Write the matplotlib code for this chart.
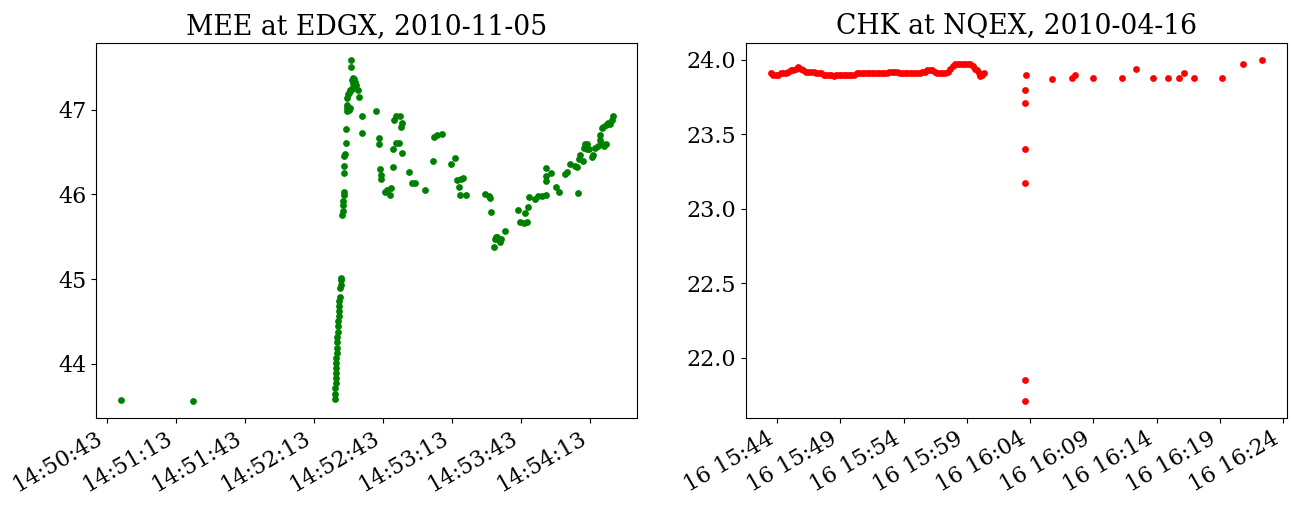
import pandas as pd
import matplotlib.pyplot as plt
import matplotlib.dates as mdates

plt.rcParams['font.family'] = 'DejaVu Serif'
plt.rcParams['font.size'] = 16

# MEE at EDGX: seconds after 14:50:00 and price
MEE_BASE = "2010-11-05 14:50:00"
mee_sec = [49.0, 80.4,
           142.3, 142.3, 142.3, 142.4, 142.4, 142.6, 142.6, 142.7, 142.8, 143.0,
           143.0, 143.1, 143.1, 143.3, 143.4, 143.6, 143.7, 143.9, 144.0, 144.1,
           144.3, 144.4, 144.6, 144.7, 144.9,
           145.3, 145.5, 145.6, 145.7, 145.9, 146.0, 146.0, 146.2, 146.3, 146.5,
           146.8, 146.9, 147.2, 147.3, 147.6, 148.1, 148.6, 147.6, 147.9, 148.3,
           148.6, 148.9, 149.4, 149.8, 150.1, 150.4, 150.8, 151.5, 152.3, 152.4,
           149.4, 150.1, 149.1, 149.2,
           154.1, 153.9, 160.1, 161.2, 161.2, 161.8, 162.0, 162.1, 163.9, 164.9,
           166.0, 166.5, 167.5, 167.5, 167.8, 168.6, 168.9, 169.8, 170.4, 170.7,
           171.4, 171.5, 174.4, 175.7, 176.9, 181.2, 184.6, 185.3, 186.3, 188.9,
           192.4, 194.3, 195.0, 196.2, 196.8, 197.6, 196.5, 199.1, 207.5, 208.9,
           209.5, 209.8, 211.4, 211.7, 212.1, 212.7, 213.4, 213.9, 214.3, 216.0,
           221.8, 222.6, 224.3, 225.5, 224.7, 225.9, 226.6, 229.2, 230.5, 232.0,
           233.7, 233.9, 234.1, 233.9, 236.0, 238.2, 239.7, 242.3, 242.8, 244.3,
           246.6, 247.2, 247.6, 248.1, 248.6, 249.8, 250.4, 250.8, 251.5, 251.5,
           252.7, 254.0, 254.4, 255.2, 256.6, 257.3, 258.1, 259.1, 259.8, 257.3,
           258.1, 258.8, 259.9, 261.0, 261.7, 262.4, 262.8]
mee_price = [43.57, 43.56,
             43.58, 43.64, 43.71, 43.77, 43.83, 43.89, 43.95, 44.01, 44.07, 44.13,
             44.18, 44.26, 44.32, 44.38, 44.44, 44.50, 44.56, 44.62, 44.68, 44.74,
             44.79, 44.89, 44.93, 44.99, 45.01,
             45.76, 45.80, 45.88, 45.92, 45.99, 46.03, 46.25, 46.34, 46.45, 46.48,
             46.61, 46.77, 46.98, 47.02, 47.06, 47.00, 47.02, 47.14, 47.18, 47.20,
             47.22, 47.23, 47.25, 47.27, 47.31, 47.36, 47.33, 47.29, 47.23, 47.15,
             47.35, 47.37, 47.50, 47.59,
             46.93, 46.72, 46.98, 46.66, 46.59, 46.30, 46.23, 46.18, 46.03, 46.05,
             45.99, 46.07, 46.53, 46.32, 46.88, 46.93, 46.61, 46.61, 46.93, 46.79,
             46.84, 46.49, 46.27, 46.13, 46.13, 46.05, 46.39, 46.68, 46.70, 46.71,
             46.36, 46.43, 46.17, 46.09, 46.18, 46.19, 45.99, 45.99, 46.01, 45.98,
             45.96, 45.79, 45.38, 45.47, 45.50, 45.50, 45.46, 45.44, 45.47, 45.57,
             45.81, 45.67, 45.66, 45.67, 45.78, 45.85, 45.97, 45.94, 45.98, 45.98,
             45.99, 46.16, 46.31, 46.22, 46.25, 46.09, 46.03, 46.24, 46.27, 46.36,
             46.34, 46.32, 46.02, 46.42, 46.47, 46.39, 46.55, 46.59, 46.59, 46.53,
             46.53, 46.44, 46.47, 46.55, 46.57, 46.64, 46.60, 46.57, 46.60, 46.70,
             46.78, 46.80, 46.82, 46.84, 46.83, 46.88, 46.93]

# CHK at NQEX: seconds after 15:43:00 and price
CHK_BASE = "2010-04-16 15:43:00"
chk_sec = [28, 40, 52, 64, 76, 88, 100, 112, 124, 136, 148, 160, 172, 184, 196,
           208, 220, 232, 244, 256, 268, 280, 292, 304, 316, 328, 340, 352, 364,
           376, 388, 400, 412, 424, 436, 448, 460, 472, 484, 496, 508, 520, 532,
           544, 556, 568, 580, 592, 604, 616, 628, 640, 652, 664, 676, 688, 700,
           712, 724, 736, 748, 760, 772, 784, 796, 808, 820, 832, 844, 856, 868,
           880, 892, 904, 916, 928, 940, 952, 964, 976, 988, 1000, 1008, 1016,
           1024, 1032, 1040,
           1235, 1235, 1235, 1235, 1235, 1235, 1242, 1362, 1458, 1472, 1556, 1694,
           1764, 1844, 1915, 1968, 1992, 2039, 2172, 2272, 2362]
chk_price = [23.91, 23.90, 23.90, 23.90, 23.91, 23.91, 23.91, 23.92, 23.93, 23.93,
             23.94, 23.95, 23.94, 23.93, 23.92, 23.92, 23.92, 23.92, 23.91, 23.91,
             23.91, 23.90, 23.90, 23.90, 23.90, 23.89, 23.90, 23.90, 23.90, 23.90,
             23.90, 23.90, 23.90, 23.90, 23.91, 23.91, 23.91, 23.91, 23.91, 23.91,
             23.91, 23.91, 23.91, 23.91, 23.91, 23.91, 23.91, 23.92, 23.92, 23.92,
             23.92, 23.91, 23.91, 23.91, 23.91, 23.91, 23.91, 23.91, 23.91, 23.91,
             23.92, 23.92, 23.93, 23.93, 23.93, 23.92, 23.91, 23.91, 23.91, 23.91,
             23.92, 23.94, 23.96, 23.97, 23.97, 23.97, 23.97, 23.97, 23.97, 23.97,
             23.96, 23.94, 23.93, 23.91, 23.89, 23.90, 23.91,
             23.80, 23.71, 23.40, 23.17, 21.85, 21.71, 23.90, 23.87, 23.88, 23.90,
             23.88, 23.88, 23.94, 23.88, 23.88, 23.88, 23.91, 23.88, 23.88, 23.97,
             24.00]


def to_times(base, secs):
    return pd.Timestamp(base) + pd.to_timedelta(secs, unit="s")


fig = plt.figure(figsize=(12.91, 5.07), dpi=100)
ax1 = fig.add_axes([0.0744, 0.1755, 0.4191, 0.7403])
ax2 = fig.add_axes([0.5778, 0.1755, 0.4191, 0.7403])

ax1.scatter(to_times(MEE_BASE, mee_sec), mee_price, s=24, color="green", linewidths=0)
ax1.set_title("MEE at EDGX, 2010-11-05")
ax1.xaxis.set_major_locator(mdates.SecondLocator(bysecond=[13, 43]))
ax1.xaxis.set_major_formatter(mdates.DateFormatter("%H:%M:%S"))

ax2.scatter(to_times(CHK_BASE, chk_sec), chk_price, s=24, color="red", linewidths=0)
ax2.set_title("CHK at NQEX, 2010-04-16")
ax2.xaxis.set_major_locator(mdates.MinuteLocator(byminute=range(4, 60, 5)))
ax2.xaxis.set_major_formatter(mdates.DateFormatter("%d %H:%M"))

for ax in (ax1, ax2):
    ax.margins(0.05)
    plt.setp(ax.get_xticklabels(), rotation=30, ha="right")

fig.savefig("out.png", dpi=100)
